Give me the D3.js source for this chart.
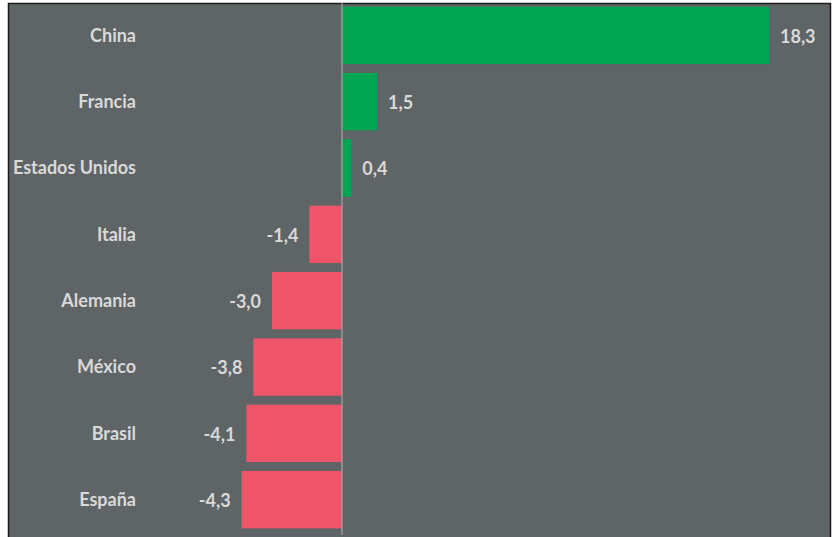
<!DOCTYPE html>
<html>
<head>
<meta charset="utf-8">
<script src="https://cdn.jsdelivr.net/npm/d3@7"></script>
<style>
  body { margin: 0; background: #ffffff; }
  svg { display: block; }
</style>
</head>
<body>
<svg id="chart"></svg>
<script>
var countries = ["China", "Francia", "Estados Unidos", "Italia", "Alemania", "México", "Brasil", "España"]
var values = [18.3, 1.5, 0.4, -1.4, -3.0, -3.8, -4.1, -4.3]

var outerWidth = 834, outerHeight = 537
var plot = { left: 9, top: 4, right: 830, bottom: 537 }

var svg = d3.select("svg#chart")
    .attr("width", outerWidth)
    .attr("height", outerHeight)

// panel background + frame
svg.append("rect")
    .attr("x", plot.left)
    .attr("y", plot.top)
    .attr("width", plot.right - plot.left)
    .attr("height", plot.bottom - plot.top)
    .attr("fill", "#5f6466")

svg.append("path")
    .attr("d", "M" + (plot.left - 0.5) + "," + plot.bottom + "V" + (plot.top - 0.5) + "H" + (plot.right + 0.5) + "V" + plot.bottom)
    .attr("fill", "none")
    .attr("stroke", "#1a1a1a")
    .attr("stroke-width", 1.5)

var xScale = d3.scaleLinear().domain([0, 18.3]).range([342, 769])
var yScale = d3.scaleBand().domain(countries).range([0, 531]).paddingInner(0.135).paddingOuter(0.07)

var data = countries.map(function(c, i) { return { country: c, value: values[i] } })

var g = svg.append("g").attr("transform", "translate(0,2)")

g.selectAll("rect.bar")
    .data(data)
    .enter()
    .append("rect")
    .attr("class", "bar")
    .attr("x", function(d) { return Math.min(xScale(0), xScale(d.value)) })
    .attr("y", function(d) { return yScale(d.country) })
    .attr("width", function(d) { return Math.abs(xScale(d.value) - xScale(0)) })
    .attr("height", yScale.bandwidth())
    .attr("fill", function(d) { return d.value >= 0 ? "#00a651" : "#ef5568" })

// zero line
g.append("line")
    .attr("x1", xScale(0))
    .attr("x2", xScale(0))
    .attr("y1", 1)
    .attr("y2", 533)
    .attr("stroke", "#a6a6a6")
    .attr("stroke-width", 1.2)

var fmt = function(v) { return d3.format(".1f")(v).replace(".", ",").replace("−", "-") }

// value labels
g.selectAll("text.value")
    .data(data)
    .enter()
    .append("text")
    .attr("class", "value")
    .attr("x", function(d) { return d.value >= 0 ? xScale(d.value) + 11 : xScale(d.value) - 11 })
    .attr("y", function(d) { return yScale(d.country) + yScale.bandwidth() / 2 + 1 })
    .attr("dy", "0.35em")
    .attr("text-anchor", function(d) { return d.value >= 0 ? "start" : "end" })
    .attr("fill", "#d9d9d9")
    .attr("font-family", "Lato, 'Open Sans', sans-serif")
    .attr("font-weight", "bold")
    .attr("font-size", "18px")
    .text(function(d) { return fmt(d.value) })

// category labels
g.selectAll("text.cat")
    .data(data)
    .enter()
    .append("text")
    .attr("class", "cat")
    .attr("x", 136)
    .attr("y", function(d) { return yScale(d.country) + yScale.bandwidth() / 2 })
    .attr("dy", "0.35em")
    .attr("text-anchor", "end")
    .attr("fill", "#d9d9d9")
    .attr("font-family", "Lato, 'Open Sans', sans-serif")
    .attr("font-weight", "bold")
    .attr("font-size", "18px")
    .text(function(d) { return d.country })
</script>
</body>
</html>
